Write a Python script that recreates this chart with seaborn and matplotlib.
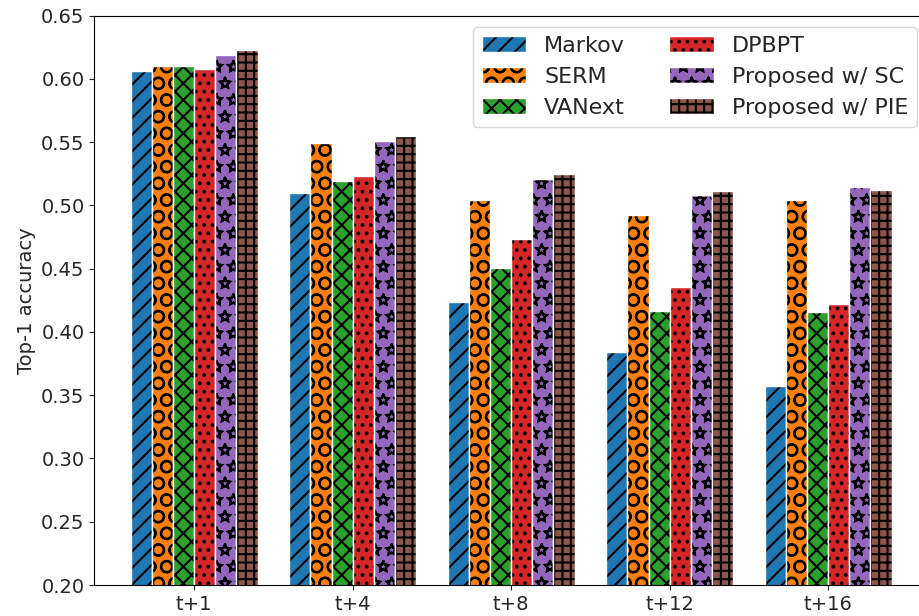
import matplotlib
matplotlib.use("Agg")
import matplotlib.pyplot as plt
import matplotlib.hatch as mhatch
import seaborn as sns
import pandas as pd

horizons = ["t+1", "t+4", "t+8", "t+12", "t+16"]
methods = ["Markov", "SERM", "VANext", "DPBPT", "Proposed w/ SC", "Proposed w/ PIE"]
markov = [0.6065, 0.510, 0.424, 0.384, 0.357]
serm = [0.6105, 0.549, 0.5045, 0.492, 0.5045]
vanext = [0.6105, 0.5195, 0.4505, 0.4165, 0.416]
dpbpt = [0.608, 0.5235, 0.4735, 0.4355, 0.422]
proposed_sc = [0.619, 0.551, 0.521, 0.5085, 0.5148]
proposed_pie = [0.623, 0.555, 0.525, 0.511, 0.5124]

series = [markov, serm, vanext, dpbpt, proposed_sc, proposed_pie]
hatches = ["//", "O", "xx", "..", "*", "++"]
colors = ["#1f77b4", "#ff7f0e", "#2ca02c", "#d62728", "#9467bd", "#8c564b"]

rows = []
for m, vals in zip(methods, series):
    for h, v in zip(horizons, vals):
        rows.append({"horizon": h, "method": m, "acc": v})
df = pd.DataFrame(rows)

sns.set_style("ticks")
plt.rcParams["font.family"] = ["DejaVu Sans"]
plt.rcParams["hatch.color"] = "black"
plt.rcParams["hatch.linewidth"] = 1.5
plt.rcParams["font.size"] = 14

# outlined (hollow) stars for the '*' hatch
mhatch.Stars.filled = False


def black_hatch(patch, hatch):
    patch.set_hatch(hatch)
    if hasattr(patch, "set_hatchcolor"):
        patch.set_hatchcolor("black")
    else:
        patch._hatch_color = (0.0, 0.0, 0.0, 1.0)


fig = plt.figure(figsize=(9.19, 6.16), dpi=100)
ax = fig.add_axes([0.1026, 0.0503, 1.0098 - 0.1026, 0.9748 - 0.0503])
sns.barplot(data=df, x="horizon", y="acc", hue="method", order=horizons,
            hue_order=methods, palette=colors, saturation=1, width=0.8,
            edgecolor="white", linewidth=1, ax=ax)

for container, hatch in zip(ax.containers, hatches):
    for bar in container:
        black_hatch(bar, hatch)

ax.set_xlim(-0.63, 4.63)
ax.set_ylim(0.20, 0.65)
ax.set_xlabel("")
ax.set_ylabel("Top-1 accuracy", fontsize=14)
ax.tick_params(labelsize=14, direction="out", length=3.5, width=0.8)
ax.set_yticks([0.20 + 0.05 * i for i in range(10)])
ax.set_yticklabels([f"{0.20 + 0.05 * i:.2f}" for i in range(10)])
for s in ax.spines.values():
    s.set_visible(True)
    s.set_color("black")
    s.set_linewidth(0.8)

handles, labels = ax.get_legend_handles_labels()
for hnd, hatch in zip(handles, hatches):
    black_hatch(hnd, hatch)
leg = ax.legend(handles, labels, ncol=2, loc="upper right", fontsize=16,
                frameon=True)
leg.get_frame().set_edgecolor("#d0d0d0")

fig.savefig("out.png", dpi=100)
